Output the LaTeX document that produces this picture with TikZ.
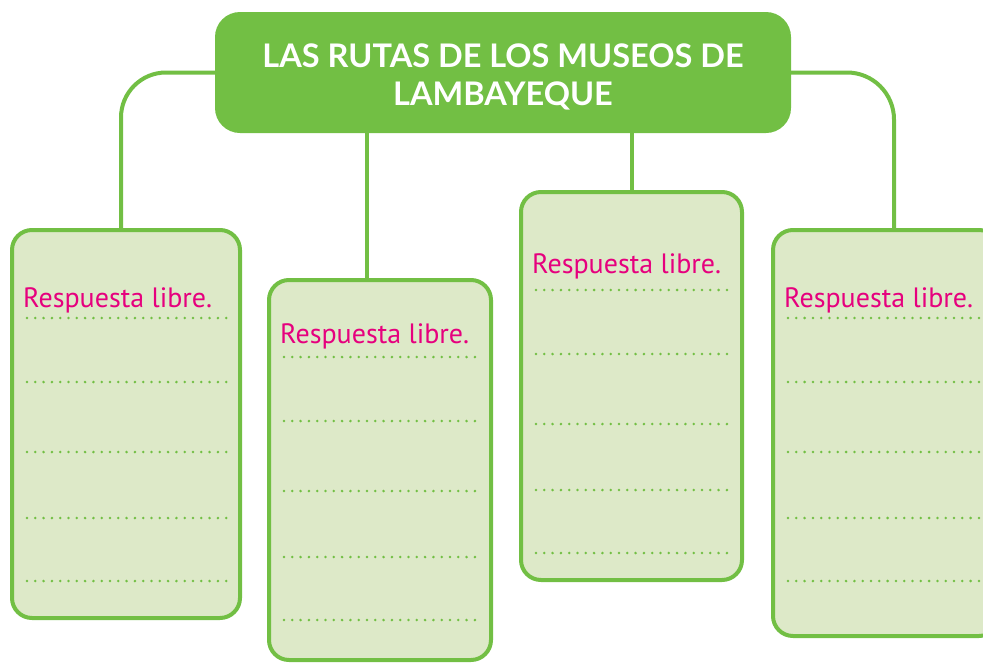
\documentclass[tikz,border=0pt]{standalone}
\usepackage{fontspec}
\setmainfont{Lato}
\newfontfamily\respfont{PT Sans}
\usepackage{tikz}

\definecolor{verde}{HTML}{72BF44}
\definecolor{verdeclaro}{HTML}{DDE9C8}
\definecolor{rosa}{HTML}{E6007E}

\begin{document}
\begin{tikzpicture}[x=1pt,y=-1pt,
    caja/.style={draw=verde,line width=4pt,fill=verdeclaro,rounded corners=20pt,
        anchor=north west,inner sep=0pt},
    titulo/.style={fill=verde,rounded corners=25pt,minimum width=576pt,minimum height=121pt},
    titulotexto/.style={text=white,align=center,font=\bfseries\fontsize{32.5}{38}\selectfont},
    linea/.style={verde,line width=4pt},
    puntos/.style={verde,line width=2.8pt,line cap=round,dash pattern=on 0pt off 8.3pt},
    resp/.style={rosa,anchor=base west,inner sep=0pt,font=\respfont\fontsize{28}{30}\selectfont}]
        \useasboundingbox (0,0) rectangle (983,662);

        % 绘制标题
        \node[titulo] (titulo) at (503,72.5) {};
        \node[titulotexto] (titulotxt) at (503,77) {LAS RUTAS DE LOS MUSEOS DE\\LAMBAYEQUE};

        % 绘制四个框
        \node[caja,minimum width=228pt,minimum height=388pt] (caja1) at (10,228) {};
        \node[caja,minimum width=222pt,minimum height=380pt] (caja2) at (267,278) {};
        \node[caja,minimum width=221pt,minimum height=388pt] (caja3) at (519,190) {};
        \node[caja,minimum width=226pt,minimum height=406pt] (caja4) at (771,228) {};

        % 连接线
        \draw[linea,rounded corners=45pt] (titulo.west) -| ([xshift=-5pt]caja1.north);
        \draw[linea,rounded corners=47pt] (titulo.east) -| ([xshift=8pt]caja4.north);
        \draw[linea] ([xshift=-13pt]caja2.north) -- ([xshift=-13pt]caja2.north |- titulo.south);
        \draw[linea] (caja3.north) -- (caja3.north |- titulo.south);

        % 文字和虚线
        \foreach \c/\t/\p in {caja1/79/90, caja2/65/79, caja3/83/100, caja4/79/90} {
            \node[resp] (txt\c) at ([xshift=13pt,yshift=-\t pt]\c.north west) {Respuesta libre.};
            \foreach \d in {0,64,134,200,263}
                \draw[puntos] ([xshift=17pt,yshift=-\p pt-\d pt]\c.north west)
                    -- ([xshift=-12pt,yshift=-\p pt-\d pt]\c.north east);
        }
    \end{tikzpicture}
\end{document}
